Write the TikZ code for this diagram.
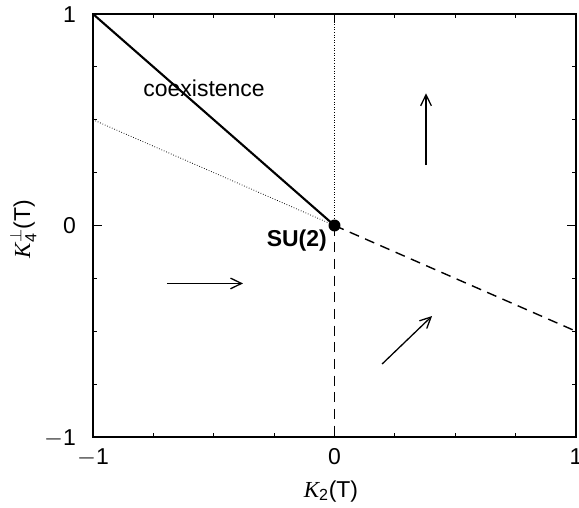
\documentclass[tikz,border=0pt]{standalone}
\usepackage{fontspec}
\usepackage{amsmath}
\setmainfont{Liberation Sans}
\setsansfont{Liberation Sans}
\newfontfamily\kfont{Liberation Serif}
\usetikzlibrary{arrows.meta}
\newcommand{\kvar}{\text{\kfont\itshape K}}

\begin{document}
\begin{tikzpicture}[x=7.245cm,y=6.345cm,font=\fontsize{19.6}{23}\selectfont,
    frame/.style={line width=0.9pt},
    flow/.style={-{Straight Barb[length=3.3mm,width=3.2mm]},line width=1.1pt},
    firstorder/.style={line width=1.8pt},
    secondorder/.style={line width=1.2pt,dash pattern=on 3mm off 2mm},
    guide/.style={line width=0.7pt,dash pattern=on 0.6pt off 1.6pt},
    ticklab/.style={inner sep=0pt}]
  \useasboundingbox (-1.3851,-1.3357) rectangle (1.0124,1.0662);

  % Frame with mirrored tics.
  \draw[frame] (-1,-1) rectangle (1,1);
  \foreach \t in {-0.75,-0.5,-0.25,0.25,0.5,0.75} {
    \draw[frame] (\t,-1) -- ++(0,0.12cm);
    \draw[frame] (\t,1) -- ++(0,-0.12cm);
    \draw[frame] (-1,\t) -- ++(0.12cm,0);
    \draw[frame] (1,\t) -- ++(-0.12cm,0);
  }
  \draw[frame] (0,-1) -- ++(0,0.27cm);
  \draw[frame] (0,1) -- ++(0,-0.27cm);
  \draw[frame] (-1,0) -- ++(0.27cm,0);
  \draw[frame] (1,0) -- ++(-0.27cm,0);

  \foreach \t/\lab in {-1/$-$1,0/0,1/1} {
    \node[ticklab,anchor=base] (xt\t) at (\t,-1.132) {\lab};
    \node[ticklab,anchor=base east] (yt\t) at (-1.07,\t-0.038) {\lab};
  }

  \node[rotate=90,inner sep=0pt] (ylab) at (-1.290,-0.017)
       {$\kvar^{\perp}_{\text{4}}$(T)};
  \node[inner sep=0pt,anchor=base] (xlab) at (-0.0145,-1.2837)
       {$\kvar_{\text{2}}$(T)};

  % Phase boundaries meeting at the SU(2) point.
  \coordinate (su) at (0,0);
  \coordinate (tl) at (-1,1);
  \coordinate (ml) at (-1,0.5);
  \coordinate (tc) at (0,1);
  \coordinate (bc) at (0,-1);
  \coordinate (mr) at (1,-0.5);

  \draw[firstorder] (tl) -- (su);
  \draw[guide] (ml) -- (su);
  \draw[guide] (tc) -- (su);
  \draw[secondorder] (su) -- (bc);
  \draw[secondorder] (su) -- (mr);
  \fill (su) circle (0.18cm);

  \node (coex) at (-0.540,0.650) {coexistence};
  \node[anchor=east,inner sep=0pt] (sulab) at (-0.031,-0.073) {\bfseries SU(2)};

  % Flow directions.
  \coordinate (ha) at (-0.694,-0.274);
  \coordinate (hb) at (-0.379,-0.274);
  \coordinate (va) at (0.379,0.286);
  \coordinate (vb) at (0.379,0.625);
  \coordinate (da) at (0.197,-0.655);
  \coordinate (db) at (0.404,-0.428);
  \draw[flow] (ha) -- (hb);
  \draw[flow] (va) -- (vb);
  \draw[flow] (da) -- (db);
\end{tikzpicture}
\end{document}
